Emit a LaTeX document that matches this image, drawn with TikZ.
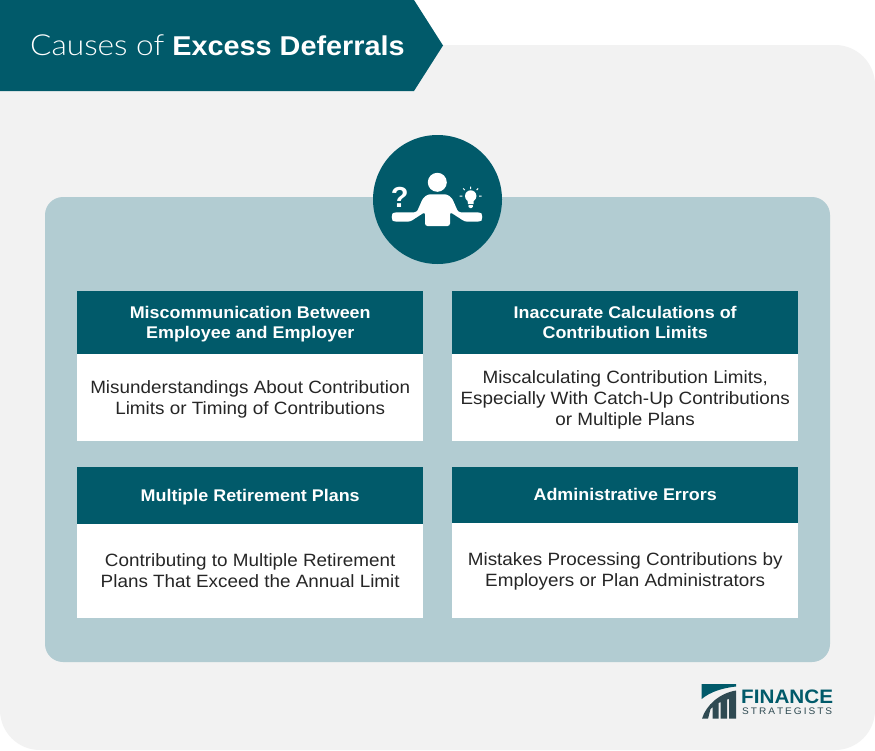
\documentclass[tikz,border=0pt]{standalone}
\usepackage{fontspec}
\setmainfont{Liberation Sans}[FakeStretch=1.06]
\newfontfamily\lightfont{Lato Light}[FakeStretch=1.09]
\newfontfamily\plainfont{Liberation Sans}
\definecolor{teal}{HTML}{015A6A}
\definecolor{panelblue}{HTML}{B2CCD2}
\definecolor{sheetgray}{HTML}{F2F2F2}
\definecolor{logodark}{HTML}{2F4A52}
\tikzset{
  headbox/.style={fill=teal,draw=none,minimum width=346pt,inner sep=0pt,text=white,align=center,font=\fontsize{16.9}{20.4}\selectfont\bfseries},
  bodybox/.style={fill=white,draw=none,minimum width=346pt,inner sep=0pt,text=black!85,align=center,font=\fontsize{17.8}{21}\selectfont},
}
\begin{document}
\begin{tikzpicture}[x=1pt,y=-1pt]
\useasboundingbox (0,0) rectangle (875,750);
\fill[white] (0,0) rectangle (875,750);
\fill[sheetgray,rounded corners=40pt] (0,45) rectangle (875,750);
\fill[panelblue,rounded corners=18pt] (45,197) rectangle (830,662);

% banner
\fill[teal] (0,0) -- (414,0) -- (443,45.5) -- (414,91) -- (0,91) -- cycle;
\node[text=white,anchor=base west,inner sep=0pt,font=\fontsize{27.2}{32}\selectfont] (title) at (30,55.5) {{\lightfont\fontsize{29}{32}\selectfont Causes of} \textbf{Excess Deferrals}};

% icon
\node[circle,fill=teal,minimum size=129pt,inner sep=0pt] (badge) at (437.5,199.5) {};
\fill[white] (437.3,182.3) circle (9.5);
\fill[white,rounded corners=2.5pt] (425,226) -- (425,212) -- (410,221.7) -- (394,221.7)
  -- (391.7,219.5) -- (391.7,214.5) -- (394,212.3) -- (416.7,212.3) -- (423,198) -- (428,194.3) -- (447,194.3)
  -- (452,198) -- (458.3,212.3) -- (480,212.3) -- (482.3,214.5) -- (482.3,219.5) -- (480,221.7) -- (465,221.7)
  -- (450,212) -- (450,226) -- cycle;
\node[text=white,inner sep=0pt,font=\plainfont\fontsize{29}{29}\selectfont\bfseries] (question) at (399.8,197) {?};
\fill[white] (470.7,196) circle (5.7);
\fill[white] (467.5,199) -- (473.9,199) -- (473.5,204) -- (467.9,204) -- cycle;
\fill[white,rounded corners=1pt] (468,205) -- (473.4,205) -- (472.4,208) -- (469,208) -- cycle;
\draw[white,line width=1pt] (470.7,186.5) -- (470.7,189) (479,196) -- (481.7,196) (462.4,196) -- (459.7,196)
  (464.8,190) -- (463.2,188.5) (476.6,190) -- (478.2,188.5);

% boxes
\path (77,291) node[headbox,anchor=north west,minimum height=63pt,text depth=1pt] (missHead) {Miscommunication Between\\Employee and Employer};
\path (77,354) node[bodybox,anchor=north west,minimum height=87pt,text depth=0pt] (missBody) {Misunderstandings About Contribution\\Limits or Timing of Contributions};
\path (452,291) node[headbox,anchor=north west,minimum height=63pt,text depth=1pt] (calcHead) {Inaccurate Calculations of\\Contribution Limits};
\path (452,354) node[bodybox,anchor=north west,minimum height=87pt,text depth=0pt] (calcBody) {Miscalculating Contribution Limits,\\Especially With Catch-Up Contributions\\or Multiple Plans};
\path (77,467) node[headbox,anchor=north west,minimum height=56.5pt,text depth=-1pt] (planHead) {Multiple Retirement Plans};
\path (77,523.5) node[bodybox,anchor=north west,minimum height=94.5pt,text depth=-2pt] (planBody) {Contributing to Multiple Retirement\\Plans That Exceed the Annual Limit};
\path (452,467) node[headbox,anchor=north west,minimum height=55.5pt,text depth=2pt] (adminHead) {Administrative Errors};
\path (452,522.5) node[bodybox,anchor=north west,minimum height=95.5pt,text depth=2pt] (adminBody) {Mistakes Processing Contributions by\\Employers or Plan Administrators};

% logo
\fill[teal] (701.7,684) -- (736,684) -- (736,686.5) .. controls (722,688) and (710,692) .. (701.7,699) -- cycle;
\fill[logodark] (702,718.7) .. controls (706,705) and (720,693) .. (736,690.5) -- (736,718.7) -- (729,718.7) -- (729,699) -- (727,699.5) -- (727,718.7)
  -- (720.5,718.7) -- (720.5,702) -- (718.5,703) -- (718.5,718.7) -- (712.5,718.7) -- (712.5,707) -- (710.5,709) -- (708,718.7) -- cycle;
\node[text=teal,anchor=base west,inner sep=0pt,font=\fontsize{19.5}{23}\selectfont\bfseries] (logoTop) at (741,703.5) {FINANCE};
\node[text=logodark,anchor=base west,inner sep=0pt,font=\fontsize{9.5}{10}\selectfont,text width=90pt,align=justify] (logoBottom) at (742,714) {S\hfill T\hfill R\hfill A\hfill T\hfill E\hfill G\hfill I\hfill S\hfill T\hfill S};
\end{tikzpicture}
\end{document}
